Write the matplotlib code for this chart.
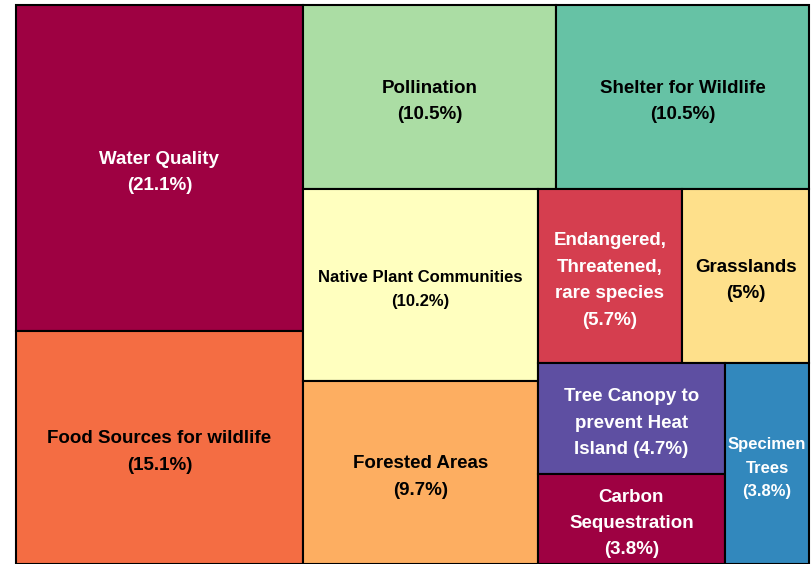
import matplotlib
matplotlib.use("Agg")
import matplotlib.pyplot as plt
import matplotlib.patches as mpatches

# data
labels = ["Water Quality", "Food Sources for wildlife", "Pollination",
          "Shelter for Wildlife", "Native Plant Communities", "Forested Areas",
          "Endangered,\nThreatened,\nrare species", "Grasslands",
          "Tree Canopy to\nprevent Heat\nIsland", "Carbon\nSequestration",
          "Specimen\nTrees"]
pct_text = ["21.1%", "15.1%", "10.5%", "10.5%", "10.2%", "9.7%",
            "5.7%", "5%", "4.7%", "3.8%", "3.8%"]
values = [21.1, 15.1, 10.5, 10.5, 10.2, 9.7, 5.7, 5.0, 4.7, 3.8, 3.8]
colors = ["#9e0142", "#f46d43", "#abdda4", "#66c2a5", "#ffffbf", "#fdae61",
          "#d53e4f", "#fee08b", "#5e4fa2", "#9e0142", "#3288bd"]
text_colors = ["white", "black", "black", "black", "black", "black",
               "white", "black", "white", "white", "white"]
# labels that get squeezed a bit to fit their box
font_sizes = [13.5, 13.5, 13.5, 13.5, 12, 13.5, 13.5, 13.5, 13.5, 13.5, 12]
# percent goes on same line as last label line for this one
inline_pct = [False] * 8 + [True, False, False]

W, H = 793.0, 559.0


def ratio(a, b):
	return max(a / b, b / a)


def lay_group(group, x, y, w, h, direction, rects):
	# direction 0: column on the left, 1: row along the top
	s = sum(group)
	if direction == 0:
		cw = s / h
		for a in group:
			rects.append((x, y, cw, a / cw))
			y += a / cw
		return x + cw, y - h, w - cw, h
	rh = s / w
	for a in group:
		rects.append((x, y, a / rh, rh))
		x += a / rh
	return x - w, y + rh, w, h - rh


def squarified(vals, x, y, w, h):
	# squarified layout that alternates direction and only checks
	# the aspect ratio of the previous item in the group
	total = sum(vals)
	areas = [v / total * w * h for v in vals]
	rects = []
	direction = 0
	group = []
	for a in areas:
		if group:
			prev = group[-1]
			s_old = sum(group)
			s_new = s_old + a
			side = h if direction == 0 else w
			t_old = s_old / side
			t_new = s_new / side
			lr = ratio(t_old, prev / t_old)
			nr = ratio(t_new, prev / t_new)
			if nr > lr:
				x, y, w, h = lay_group(group, x, y, w, h, direction, rects)
				direction = 1 - direction
				group = []
		group.append(a)
	lay_group(group, x, y, w, h, direction, rects)
	return rects


rects = squarified(values, 0, 0, W, H)

fig = plt.figure(figsize=(8.12, 5.64), dpi=100)
ax = fig.add_axes([16 / 812, 0, W / 812, H / 564])
ax.set_xlim(0, W)
ax.set_ylim(H, 0)
ax.axis("off")

for i, (rx, ry, rw, rh) in enumerate(rects):
	ax.add_patch(mpatches.Rectangle((rx, ry), rw, rh, facecolor=colors[i],
	                                edgecolor="black", linewidth=1.5,
	                                clip_on=False))
	if inline_pct[i]:
		txt = labels[i] + " (" + pct_text[i] + ")"
	else:
		txt = labels[i] + "\n(" + pct_text[i] + ")"
	# labels sit a few pixels below the box centre
	ax.text(rx + rw / 2, ry + rh / 2 + 4.5, txt, ha="center", va="center",
	        multialignment="center", color=text_colors[i],
	        fontsize=font_sizes[i], fontweight="bold",
	        family="Liberation Sans", linespacing=1.72)

fig.savefig("out.png", dpi=100)
